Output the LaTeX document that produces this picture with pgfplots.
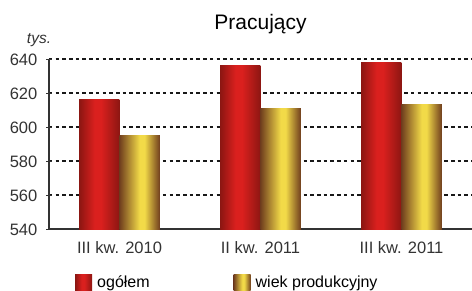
\documentclass[border=0pt]{standalone}
\usepackage{pgfplots}
\pgfplotsset{compat=1.18}
\usepackage{fontspec}
\setmainfont{Liberation Sans}
\definecolor{rdark}{RGB}{140,22,18}
\definecolor{rbright}{RGB}{218,32,30}
\definecolor{gdark}{RGB}{112,62,30}
\definecolor{gbright}{RGB}{242,218,72}
\pgfdeclarehorizontalshading{redbar}{100bp}{color(0bp)=(rdark); color(25bp)=(rdark); color(44bp)=(rbright); color(52bp)=(rbright); color(75bp)=(rdark); color(100bp)=(rdark)}
\pgfdeclarehorizontalshading{goldbar}{100bp}{color(0bp)=(gdark); color(25bp)=(gdark); color(50bp)=(gbright); color(56bp)=(gbright); color(75bp)=(gdark); color(100bp)=(gdark)}
\pgfplotsset{
  redstyle/.style={draw=none, shade, shading=redbar, bar shift=-0.143},
  goldstyle/.style={draw=none, shade, shading=goldbar, bar shift=0.143},
}
\begin{document}
\begin{tikzpicture}
\path[use as bounding box] (0pt,0pt) rectangle (472pt,290pt);
\begin{axis}[
  at={(49pt,61pt)}, anchor=south west,
  width=423pt, height=170pt, scale only axis,
  ybar,
  xmin=-0.5, xmax=2.5, ymin=540, ymax=640,
  xtick={0,1,2}, xticklabels={III kw. 2010, II kw. 2011, III kw. 2011},
  ytick={540,560,...,640},
  axis x line*=bottom, axis y line*=left,
  axis line style={black!80, line width=1.2pt},
  xtick style={draw=none},
  ytick style={black!80, line width=1pt},
  major tick length=5pt, tick align=center,
  ymajorgrids,
  major grid style={black!90, line width=1.2pt, dash pattern=on 3.5pt off 3.2pt},
  /pgf/number format/assume math mode=true,
  tick label style={font=\fontsize{16.5}{16.5}\selectfont, text=black!80},
  yticklabel style={anchor=east, inner sep=0pt, xshift=-9pt, yshift=-1pt},
  xticklabel style={anchor=base, inner sep=0pt, yshift=-22pt},
  bar width=0.286,
  legend columns=2,
  legend style={at={(0.0615,-0.312)}, anchor=west, draw=none, fill=none, inner sep=0pt,
    font=\fontsize{16}{16}\selectfont,
    nodes={inner sep=0pt},
    /tikz/every odd column/.append style={column sep=5pt},
    /tikz/every even column/.append style={column sep=84pt}},
  legend image code/.code={\path[#1] (0pt,-8pt) rectangle (17pt,8pt);},
]
\addplot[redstyle] coordinates {(0,616)};
\addplot[goldstyle] coordinates {(0,595)};
\addplot[redstyle, forget plot] coordinates {(1,636)};
\addplot[goldstyle, forget plot] coordinates {(1,611)};
\addplot[redstyle, forget plot] coordinates {(2,638)};
\addplot[goldstyle, forget plot] coordinates {(2,613)};
\legend{ogółem, wiek produkcyjny}
\end{axis}
\node[anchor=base, font=\fontsize{21}{21}\selectfont] at (260.5pt,260pt) {Pracujący};
\node[anchor=base, font=\fontsize{15.5}{15.5}\selectfont\itshape, text=black!80] at (39pt,247pt) {tys.};
\end{tikzpicture}
\end{document}
